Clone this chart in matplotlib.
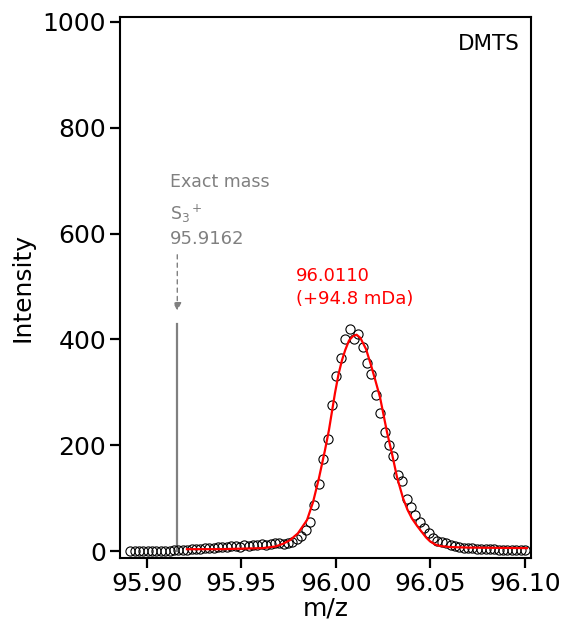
import matplotlib
matplotlib.use("Agg")
import matplotlib.pyplot as plt

# measured data (open circles)
mz_data = [95.8913, 95.8936, 95.8959, 95.8983, 95.9006, 95.9029, 95.9052, 95.9075, 95.9099, 95.9122,
           95.9145, 95.9168, 95.9191, 95.9215, 95.9238, 95.9261, 95.9284, 95.9307, 95.9331, 95.9354,
           95.9377, 95.9400, 95.9423, 95.9447, 95.9470, 95.9493, 95.9516, 95.9539, 95.9563, 95.9586,
           95.9609, 95.9632, 95.9655, 95.9679, 95.9702, 95.9725, 95.9748, 95.9771, 95.9795, 95.9818,
           95.9841, 95.9864, 95.9887, 95.9911, 95.9934, 95.9957, 95.9980, 96.0003, 96.0027, 96.0050,
           96.0073, 96.0096, 96.0119, 96.0143, 96.0166, 96.0189, 96.0212, 96.0235, 96.0259, 96.0282,
           96.0305, 96.0328, 96.0351, 96.0375, 96.0398, 96.0421, 96.0444, 96.0467, 96.0491, 96.0514,
           96.0537, 96.0560, 96.0583, 96.0607, 96.0630, 96.0653, 96.0676, 96.0699, 96.0723, 96.0746,
           96.0769, 96.0792, 96.0815, 96.0839, 96.0862, 96.0885, 96.0908, 96.0931, 96.0955, 96.0978,
           96.1001]
int_data = [1, 1, 1, 1, 1, 1, 1, 1, 1, 1, 2, 2,
            3, 3, 4, 4, 5, 6, 7, 6, 8, 9, 8, 10, 10, 9, 11, 10, 12, 11, 13, 12, 14, 15, 15,
            13, 15, 17, 23, 28, 40, 55, 87, 127, 174, 212,
            276, 331, 365, 401, 420, 401, 410, 386, 355, 335, 295, 261, 225,
            201, 180, 144, 132, 98, 83, 68, 55, 44, 34, 26, 20, 17, 15,
            12, 10, 8, 7, 6, 6, 5, 5, 4, 4, 4, 3, 3, 3, 3, 2, 2, 2]

# fitted curve (red)
mz_fit = [95.9213, 95.9388, 95.9615, 95.9680, 95.9720, 95.9758, 95.9800, 95.9848, 95.9880, 95.9911,
          95.9943, 95.9964, 95.9996, 96.0015, 96.0033, 96.0050, 96.0070, 96.0090, 96.0110, 96.0130,
          96.0160, 96.0186, 96.0210, 96.0234, 96.0271, 96.0297, 96.0324, 96.0356, 96.0380, 96.0403,
          96.0430, 96.0456, 96.0478, 96.0498, 96.0525, 96.0551, 96.0604, 96.0700, 96.1011]
int_fit = [4, 4, 6, 9, 14, 21, 34, 59, 93, 138,
           191, 229, 299, 335, 361, 380, 398, 406, 409, 403,
           382, 352, 322, 291, 225, 185, 140, 100, 78, 62,
           48, 36, 26, 19, 13, 10, 8, 7, 6]

exact_mass = 95.9162
exact_line_top = 429
arrow_start = 560
arrow_tip = 454

xticks = [95.90, 95.95, 96.00, 96.05, 96.10]
yticks = [0, 200, 400, 600, 800, 1000]

fig = plt.figure(figsize=(5.66, 6.30), dpi=100)
ax = fig.add_axes([0.212, 0.114, 0.726, 0.859])

ax.plot(mz_data, int_data, linestyle='none', marker='o', markersize=6.6,
        markerfacecolor='none', markeredgecolor='black', markeredgewidth=0.8, zorder=3)
ax.plot(mz_fit, int_fit, color='red', linewidth=1.6, zorder=4)

ax.plot([exact_mass, exact_mass], [0, exact_line_top], color='#808080', linewidth=1.6, zorder=2)
ax.annotate('', xy=(exact_mass, arrow_tip), xytext=(exact_mass, arrow_start),
            arrowprops=dict(arrowstyle='-|>', color='#808080', linestyle=(0, (3, 3)),
                            linewidth=1.0, mutation_scale=12, shrinkA=0, shrinkB=0))

gray = '#808080'
ax.text(95.9122, 697, 'Exact mass', color=gray, fontsize=12.5, va='center', ha='left')
ax.text(95.9122, 637, r'S$_3$$^+$', color=gray, fontsize=12.5, va='center', ha='left')
ax.text(95.9122, 590, '95.9162', color=gray, fontsize=13, va='center', ha='left')

ax.text(95.9791, 520, '96.0110', color='red', fontsize=13, va='center', ha='left')
ax.text(95.9791, 477, '(+94.8 mDa)', color='red', fontsize=13, va='center', ha='left')

ax.text(0.973, 0.95, 'DMTS', transform=ax.transAxes, fontsize=15.5, ha='right', va='center')

ax.set_xlim(95.8859, 96.1032)
ax.set_ylim(-13, 1009)
ax.set_xticks(xticks)
ax.set_xticklabels([f'{t:.2f}' for t in xticks])
ax.set_yticks(yticks)
ax.set_yticklabels([str(t) for t in yticks])
ax.tick_params(direction='out', length=7, width=1.6, labelsize=18, pad=3)
for s in ax.spines.values():
    s.set_linewidth(1.5)

ax.set_xlabel('m/z', fontsize=18, labelpad=0)
ax.set_ylabel('Intensity', fontsize=18, labelpad=6)

fig.savefig('out.png', dpi=100)
